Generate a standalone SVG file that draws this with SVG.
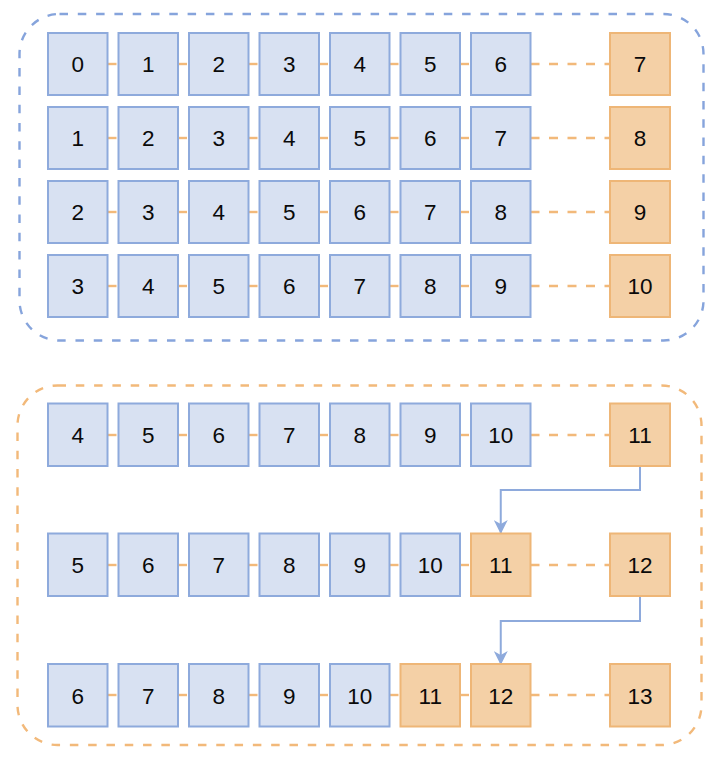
<svg xmlns="http://www.w3.org/2000/svg" width="722" height="762" viewBox="0 0 722 762">
<defs>
<style>
.b rect{fill:#d8e1f2;stroke:#8eaadc;stroke-width:2}
.o rect{fill:#f4d0a6;stroke:#eeb677;stroke-width:2}
text{font-family:"Liberation Sans",Arial,sans-serif;font-size:22.5px;fill:#0a0a0a;text-anchor:middle}
.c line{stroke:#f2b97a;stroke-width:2.4;stroke-dasharray:9 9.5}
.arr{fill:none;stroke:#8eaadc;stroke-width:2}
.cont{fill:none;stroke-width:2.4;stroke-dasharray:8.5 9.8}
</style>
<marker id="ah" markerUnits="userSpaceOnUse" markerWidth="14" markerHeight="14" viewBox="0 0 14 14" refX="13" refY="7" orient="auto">
<path d="M0,0 L14,7 L0,14 L4,7 Z" fill="#8eaadc"/>
</marker>
</defs>
<rect id="groupTop" class="cont" x="19.5" y="14" width="684" height="326.5" rx="40" stroke="#86a4dc"/>
<rect id="groupBottom" class="cont" x="17.5" y="385.5" width="684" height="359.5" rx="40" stroke="#f2b97a"/>
<g id="connectors" class="c">
<line x1="107.5" y1="64" x2="118.5" y2="64"/><line x1="178" y1="64" x2="189" y2="64"/><line x1="248.5" y1="64" x2="259.5" y2="64"/><line x1="319" y1="64" x2="330" y2="64"/><line x1="389.5" y1="64" x2="400.5" y2="64"/><line x1="460" y1="64" x2="471" y2="64"/><line x1="530.5" y1="64" x2="610" y2="64"/>
<line x1="107.5" y1="138" x2="118.5" y2="138"/><line x1="178" y1="138" x2="189" y2="138"/><line x1="248.5" y1="138" x2="259.5" y2="138"/><line x1="319" y1="138" x2="330" y2="138"/><line x1="389.5" y1="138" x2="400.5" y2="138"/><line x1="460" y1="138" x2="471" y2="138"/><line x1="530.5" y1="138" x2="610" y2="138"/>
<line x1="107.5" y1="212" x2="118.5" y2="212"/><line x1="178" y1="212" x2="189" y2="212"/><line x1="248.5" y1="212" x2="259.5" y2="212"/><line x1="319" y1="212" x2="330" y2="212"/><line x1="389.5" y1="212" x2="400.5" y2="212"/><line x1="460" y1="212" x2="471" y2="212"/><line x1="530.5" y1="212" x2="610" y2="212"/>
<line x1="107.5" y1="286" x2="118.5" y2="286"/><line x1="178" y1="286" x2="189" y2="286"/><line x1="248.5" y1="286" x2="259.5" y2="286"/><line x1="319" y1="286" x2="330" y2="286"/><line x1="389.5" y1="286" x2="400.5" y2="286"/><line x1="460" y1="286" x2="471" y2="286"/><line x1="530.5" y1="286" x2="610" y2="286"/>
<line x1="107.5" y1="435" x2="118.5" y2="435"/><line x1="178" y1="435" x2="189" y2="435"/><line x1="248.5" y1="435" x2="259.5" y2="435"/><line x1="319" y1="435" x2="330" y2="435"/><line x1="389.5" y1="435" x2="400.5" y2="435"/><line x1="460" y1="435" x2="471" y2="435"/><line x1="530.5" y1="435" x2="610" y2="435"/>
<line x1="107.5" y1="565" x2="118.5" y2="565"/><line x1="178" y1="565" x2="189" y2="565"/><line x1="248.5" y1="565" x2="259.5" y2="565"/><line x1="319" y1="565" x2="330" y2="565"/><line x1="389.5" y1="565" x2="400.5" y2="565"/><line x1="460" y1="565" x2="471" y2="565"/><line x1="530.5" y1="565" x2="610" y2="565"/>
<line x1="107.5" y1="695" x2="118.5" y2="695"/><line x1="178" y1="695" x2="189" y2="695"/><line x1="248.5" y1="695" x2="259.5" y2="695"/><line x1="319" y1="695" x2="330" y2="695"/><line x1="389.5" y1="695" x2="400.5" y2="695"/><line x1="460" y1="695" x2="471" y2="695"/><line x1="530.5" y1="695" x2="610" y2="695"/>
<path class="arr" d="M640,466 V490 H500.75 V533" marker-end="url(#ah)"/>
<path class="arr" d="M640,596.5 V621 H500.75 V664" marker-end="url(#ah)"/>
</g>
<g id="r1c0" class="b"><rect x="48" y="33" width="59.5" height="62"/><text x="77.75" y="72">0</text></g>
<g id="r1c1" class="b"><rect x="118.5" y="33" width="59.5" height="62"/><text x="148.25" y="72">1</text></g>
<g id="r1c2" class="b"><rect x="189" y="33" width="59.5" height="62"/><text x="218.75" y="72">2</text></g>
<g id="r1c3" class="b"><rect x="259.5" y="33" width="59.5" height="62"/><text x="289.25" y="72">3</text></g>
<g id="r1c4" class="b"><rect x="330" y="33" width="59.5" height="62"/><text x="359.75" y="72">4</text></g>
<g id="r1c5" class="b"><rect x="400.5" y="33" width="59.5" height="62"/><text x="430.25" y="72">5</text></g>
<g id="r1c6" class="b"><rect x="471" y="33" width="59.5" height="62"/><text x="500.75" y="72">6</text></g>
<g id="r1c7" class="o"><rect x="610" y="33" width="60" height="62"/><text x="640" y="72">7</text></g>
<g id="r2c0" class="b"><rect x="48" y="107" width="59.5" height="62"/><text x="77.75" y="146">1</text></g>
<g id="r2c1" class="b"><rect x="118.5" y="107" width="59.5" height="62"/><text x="148.25" y="146">2</text></g>
<g id="r2c2" class="b"><rect x="189" y="107" width="59.5" height="62"/><text x="218.75" y="146">3</text></g>
<g id="r2c3" class="b"><rect x="259.5" y="107" width="59.5" height="62"/><text x="289.25" y="146">4</text></g>
<g id="r2c4" class="b"><rect x="330" y="107" width="59.5" height="62"/><text x="359.75" y="146">5</text></g>
<g id="r2c5" class="b"><rect x="400.5" y="107" width="59.5" height="62"/><text x="430.25" y="146">6</text></g>
<g id="r2c6" class="b"><rect x="471" y="107" width="59.5" height="62"/><text x="500.75" y="146">7</text></g>
<g id="r2c7" class="o"><rect x="610" y="107" width="60" height="62"/><text x="640" y="146">8</text></g>
<g id="r3c0" class="b"><rect x="48" y="181" width="59.5" height="62"/><text x="77.75" y="220">2</text></g>
<g id="r3c1" class="b"><rect x="118.5" y="181" width="59.5" height="62"/><text x="148.25" y="220">3</text></g>
<g id="r3c2" class="b"><rect x="189" y="181" width="59.5" height="62"/><text x="218.75" y="220">4</text></g>
<g id="r3c3" class="b"><rect x="259.5" y="181" width="59.5" height="62"/><text x="289.25" y="220">5</text></g>
<g id="r3c4" class="b"><rect x="330" y="181" width="59.5" height="62"/><text x="359.75" y="220">6</text></g>
<g id="r3c5" class="b"><rect x="400.5" y="181" width="59.5" height="62"/><text x="430.25" y="220">7</text></g>
<g id="r3c6" class="b"><rect x="471" y="181" width="59.5" height="62"/><text x="500.75" y="220">8</text></g>
<g id="r3c7" class="o"><rect x="610" y="181" width="60" height="62"/><text x="640" y="220">9</text></g>
<g id="r4c0" class="b"><rect x="48" y="255" width="59.5" height="62"/><text x="77.75" y="294">3</text></g>
<g id="r4c1" class="b"><rect x="118.5" y="255" width="59.5" height="62"/><text x="148.25" y="294">4</text></g>
<g id="r4c2" class="b"><rect x="189" y="255" width="59.5" height="62"/><text x="218.75" y="294">5</text></g>
<g id="r4c3" class="b"><rect x="259.5" y="255" width="59.5" height="62"/><text x="289.25" y="294">6</text></g>
<g id="r4c4" class="b"><rect x="330" y="255" width="59.5" height="62"/><text x="359.75" y="294">7</text></g>
<g id="r4c5" class="b"><rect x="400.5" y="255" width="59.5" height="62"/><text x="430.25" y="294">8</text></g>
<g id="r4c6" class="b"><rect x="471" y="255" width="59.5" height="62"/><text x="500.75" y="294">9</text></g>
<g id="r4c7" class="o"><rect x="610" y="255" width="60" height="62"/><text x="640" y="294">10</text></g>
<g id="r5c0" class="b"><rect x="48" y="403.5" width="59.5" height="62.5"/><text x="77.75" y="443">4</text></g>
<g id="r5c1" class="b"><rect x="118.5" y="403.5" width="59.5" height="62.5"/><text x="148.25" y="443">5</text></g>
<g id="r5c2" class="b"><rect x="189" y="403.5" width="59.5" height="62.5"/><text x="218.75" y="443">6</text></g>
<g id="r5c3" class="b"><rect x="259.5" y="403.5" width="59.5" height="62.5"/><text x="289.25" y="443">7</text></g>
<g id="r5c4" class="b"><rect x="330" y="403.5" width="59.5" height="62.5"/><text x="359.75" y="443">8</text></g>
<g id="r5c5" class="b"><rect x="400.5" y="403.5" width="59.5" height="62.5"/><text x="430.25" y="443">9</text></g>
<g id="r5c6" class="b"><rect x="471" y="403.5" width="59.5" height="62.5"/><text x="500.75" y="443">10</text></g>
<g id="r5c7" class="o"><rect x="610" y="403.5" width="60" height="62.5"/><text x="640" y="443">11</text></g>
<g id="r6c0" class="b"><rect x="48" y="533.5" width="59.5" height="62.5"/><text x="77.75" y="573">5</text></g>
<g id="r6c1" class="b"><rect x="118.5" y="533.5" width="59.5" height="62.5"/><text x="148.25" y="573">6</text></g>
<g id="r6c2" class="b"><rect x="189" y="533.5" width="59.5" height="62.5"/><text x="218.75" y="573">7</text></g>
<g id="r6c3" class="b"><rect x="259.5" y="533.5" width="59.5" height="62.5"/><text x="289.25" y="573">8</text></g>
<g id="r6c4" class="b"><rect x="330" y="533.5" width="59.5" height="62.5"/><text x="359.75" y="573">9</text></g>
<g id="r6c5" class="b"><rect x="400.5" y="533.5" width="59.5" height="62.5"/><text x="430.25" y="573">10</text></g>
<g id="r6c6" class="o"><rect x="471" y="533.5" width="59.5" height="62.5"/><text x="500.75" y="573">11</text></g>
<g id="r6c7" class="o"><rect x="610" y="533.5" width="60" height="62.5"/><text x="640" y="573">12</text></g>
<g id="r7c0" class="b"><rect x="48" y="664" width="59.5" height="62.5"/><text x="77.75" y="703.5">6</text></g>
<g id="r7c1" class="b"><rect x="118.5" y="664" width="59.5" height="62.5"/><text x="148.25" y="703.5">7</text></g>
<g id="r7c2" class="b"><rect x="189" y="664" width="59.5" height="62.5"/><text x="218.75" y="703.5">8</text></g>
<g id="r7c3" class="b"><rect x="259.5" y="664" width="59.5" height="62.5"/><text x="289.25" y="703.5">9</text></g>
<g id="r7c4" class="b"><rect x="330" y="664" width="59.5" height="62.5"/><text x="359.75" y="703.5">10</text></g>
<g id="r7c5" class="o"><rect x="400.5" y="664" width="59.5" height="62.5"/><text x="430.25" y="703.5">11</text></g>
<g id="r7c6" class="o"><rect x="471" y="664" width="59.5" height="62.5"/><text x="500.75" y="703.5">12</text></g>
<g id="r7c7" class="o"><rect x="610" y="664" width="60" height="62.5"/><text x="640" y="703.5">13</text></g>
</svg>
